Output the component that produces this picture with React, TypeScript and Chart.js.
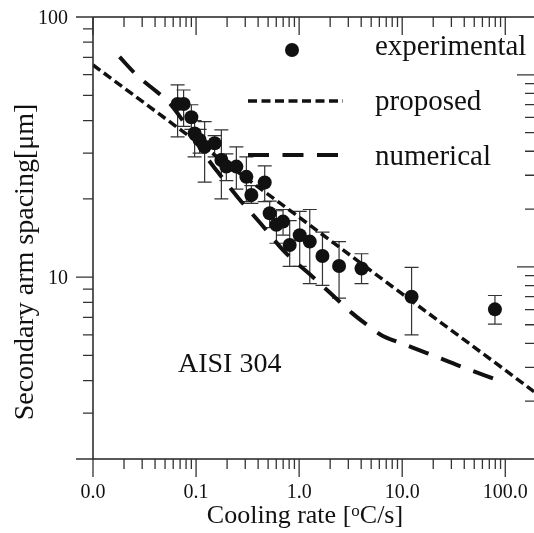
import React, { useEffect, useRef } from "react";
import { Chart, registerables } from "chart.js";

Chart.register(...registerables);

// Experimental data: cooling rate [°C/s] vs secondary arm spacing [µm]
const expRate = [0.0662, 0.0757, 0.09, 0.0968, 0.1083, 0.1211, 0.1514, 0.176, 0.1967, 0.246, 0.3077, 0.344, 0.4634, 0.518, 0.602, 0.698, 0.81, 1.013, 1.268, 1.684, 2.44, 4.03, 12.33, 79.4];
const expSpacing = [46.3, 46.3, 41.2, 35.7, 33.7, 31.7, 32.7, 28.2, 26.6, 26.6, 24.3, 20.7, 23.1, 17.6, 15.9, 16.35, 13.3, 14.5, 13.7, 12.06, 11.04, 10.8, 8.41, 7.52];
const expHigh = [54.8, 52.4, 46.0, 40.0, 37.0, 39.6, 35.0, 36.8, 29.8, 31.7, 29.0, 22.5, 26.8, 19.6, 18.0, 18.2, 16.5, 17.9, 18.2, 14.9, 13.7, 12.3, 10.9, 8.5];
const expLow = [34.6, 38.0, 37.0, 29.0, 30.0, 23.2, 29.0, 20.0, 23.5, 21.8, 19.5, 19.2, 19.5, 15.5, 13.5, 14.5, 11.0, 11.0, 9.45, 9.3, 8.3, 9.45, 6.0, 6.6];

// Proposed model (straight in log-log)
const propRate = [0.01, 0.1, 1, 10, 100, 190];
const propSpacing = [65.4, 33.3, 17.0, 8.62, 4.39, 3.63];

// Numerical model
const numRate = [0.0181, 0.0271, 0.0396, 0.0529, 0.0692, 0.1238, 0.162, 0.2533, 0.4333, 0.7245, 1.356, 2.371, 3.243, 4.436, 6.49, 8.49, 17.35, 37.97, 83.1];
const numSpacing = [70.2, 59.3, 52.4, 47.6, 41.6, 29.2, 25.4, 20.3, 15.9, 12.5, 10.02, 8.17, 7.29, 6.61, 5.94, 5.69, 5.11, 4.52, 4.03];

// Axis ticks and labels
const xMajorTicks = [0.01, 0.1, 1, 10, 100];
const xTickLabels = ["0.0", "0.1", "1.0", "10.0", "100.0"];
const yMajorTicks = [10, 100];
const yTickLabels = ["10", "100"];

const X_MIN = 0.01;
const X_MAX = 190;
const Y_MIN = 2;
const Y_MAX = 100;

const SERIF = '"Liberation Serif", "Times New Roman", serif';

function minorTicks(decades: number[], max: number, min: number) {
  const out: number[] = [];
  decades.forEach((d) => {
    for (let m = 2; m <= 9; m++) {
      const v = d * m;
      if (v <= max && v >= min) out.push(v);
    }
  });
  return out;
}

const customPlugin = {
  id: "customAxes",
  beforeDatasetsDraw(chart: any) {
    const ctx = chart.ctx;
    const xs = chart.scales.x;
    const ys = chart.scales.y;
    ctx.save();
    ctx.strokeStyle = "#333";
    ctx.lineWidth = 1.2;
    expRate.forEach((r, i) => {
      const px = xs.getPixelForValue(r);
      const ph = ys.getPixelForValue(expHigh[i]);
      const pl = ys.getPixelForValue(expLow[i]);
      ctx.beginPath();
      ctx.moveTo(px, ph);
      ctx.lineTo(px, pl);
      ctx.moveTo(px - 7, ph);
      ctx.lineTo(px + 7, ph);
      ctx.moveTo(px - 7, pl);
      ctx.lineTo(px + 7, pl);
      ctx.stroke();
    });
    ctx.restore();
  },
  afterDraw(chart: any) {
    const ctx = chart.ctx;
    const xs = chart.scales.x;
    const ys = chart.scales.y;
    const y2 = chart.scales.y2;
    const { left, right, top, bottom } = chart.chartArea;
    ctx.save();
    // axis lines
    ctx.strokeStyle = "#222";
    ctx.lineWidth = 1.5;
    ctx.beginPath();
    ctx.moveTo(left, top);
    ctx.lineTo(left, bottom);
    ctx.moveTo(left, top);
    ctx.lineTo(right, top);
    ctx.moveTo(left, bottom);
    ctx.lineTo(right, bottom);
    ctx.stroke();

    ctx.strokeStyle = "#333";
    ctx.lineWidth = 1.3;
    ctx.beginPath();
    // x ticks
    const xMinor = minorTicks(xMajorTicks, X_MAX, X_MIN);
    xMajorTicks.forEach((v) => {
      const p = xs.getPixelForValue(v);
      ctx.moveTo(p, bottom);
      ctx.lineTo(p, bottom + 18);
      ctx.moveTo(p, top);
      ctx.lineTo(p, top + 18);
    });
    xMinor.forEach((v) => {
      const p = xs.getPixelForValue(v);
      ctx.moveTo(p, bottom);
      ctx.lineTo(p, bottom + 10);
      ctx.moveTo(p, top);
      ctx.lineTo(p, top + 10);
    });
    // left y ticks
    const yMinor = minorTicks([1, 10], Y_MAX, Y_MIN);
    [2, ...yMajorTicks].forEach((v) => {
      const p = ys.getPixelForValue(v);
      ctx.moveTo(left - 17, p);
      ctx.lineTo(left, p);
    });
    yMinor.forEach((v) => {
      const p = ys.getPixelForValue(v);
      ctx.moveTo(left - 10, p);
      ctx.lineTo(left, p);
    });
    // right (secondary) ticks, inward
    const y2Minor = minorTicks([1, 10], 99, 2);
    [10, 100].forEach((v) => {
      const p = y2.getPixelForValue(v);
      ctx.moveTo(right, p);
      ctx.lineTo(right - 17, p);
    });
    y2Minor.forEach((v) => {
      const p = y2.getPixelForValue(v);
      ctx.moveTo(right, p);
      ctx.lineTo(right - 9, p);
    });
    ctx.stroke();

    // tick labels
    ctx.fillStyle = "#111";
    ctx.font = `20px ${SERIF}`;
    ctx.textAlign = "center";
    ctx.textBaseline = "alphabetic";
    xMajorTicks.forEach((v, i) => {
      ctx.fillText(xTickLabels[i], xs.getPixelForValue(v), bottom + 39);
    });
    ctx.textAlign = "right";
    yMajorTicks.forEach((v, i) => {
      ctx.fillText(yTickLabels[i], left - 25, ys.getPixelForValue(v) + 6.5);
    });

    // x title with superscript o
    const t1 = "Cooling rate [";
    const tSup = "o";
    const t2 = "C/s]";
    ctx.font = `26px ${SERIF}`;
    const w1 = ctx.measureText(t1).width;
    const w2 = ctx.measureText(t2).width;
    ctx.font = `17px ${SERIF}`;
    const ws = ctx.measureText(tSup).width;
    const total = w1 + ws + w2;
    const cx = 305;
    let sx = cx - total / 2;
    const base = bottom + 64;
    ctx.textAlign = "left";
    ctx.font = `26px ${SERIF}`;
    ctx.fillText(t1, sx, base);
    sx += w1;
    ctx.font = `17px ${SERIF}`;
    ctx.fillText(tSup, sx, base - 7);
    sx += ws;
    ctx.font = `26px ${SERIF}`;
    ctx.fillText(t2, sx, base);

    // y title
    ctx.save();
    ctx.translate(33, 262);
    ctx.rotate(-Math.PI / 2);
    ctx.textAlign = "center";
    ctx.font = `28px ${SERIF}`;
    ctx.fillText("Secondary arm spacing[\u03bcm]", 0, 0);
    ctx.restore();

    // annotation
    ctx.font = `28px ${SERIF}`;
    ctx.textAlign = "left";
    ctx.fillText("AISI 304", 178, 372);

    // legend
    ctx.fillStyle = "#111";
    ctx.beginPath();
    ctx.arc(292, 50, 7, 0, Math.PI * 2);
    ctx.fill();
    ctx.font = `29px ${SERIF}`;
    ctx.fillText("experimental", 375, 55);
    ctx.fillText("proposed", 375, 110);
    ctx.fillText("numerical", 375, 165);

    ctx.strokeStyle = "#111";
    ctx.lineCap = "butt";
    ctx.lineWidth = 3.5;
    ctx.setLineDash([9, 4.5]);
    ctx.beginPath();
    ctx.moveTo(248, 101);
    ctx.lineTo(343, 101);
    ctx.stroke();
    ctx.lineWidth = 4;
    ctx.setLineDash([21, 13.5]);
    ctx.beginPath();
    ctx.moveTo(248, 155);
    ctx.lineTo(340, 155);
    ctx.stroke();
    ctx.setLineDash([]);
    ctx.restore();
  },
};

export default function App() {
  const ref = useRef<HTMLCanvasElement | null>(null);
  useEffect(() => {
    if (!ref.current) return;
    const chart = new Chart(ref.current, {
      type: "scatter",
      data: {
        datasets: [
          {
            label: "experimental",
            data: expRate.map((x, i) => ({ x, y: expSpacing[i] })),
            showLine: false,
            pointRadius: 7,
            pointBackgroundColor: "#111",
            pointBorderColor: "#111",
            pointBorderWidth: 0,
            order: 2,
          },
          {
            label: "proposed",
            type: "line",
            data: propRate.map((x, i) => ({ x, y: propSpacing[i] })),
            borderColor: "#111",
            borderWidth: 3.5,
            borderDash: [9, 4.5],
            borderCapStyle: "butt",
            pointRadius: 0,
            fill: false,
            order: 1,
          },
          {
            label: "numerical",
            type: "line",
            data: numRate.map((x, i) => ({ x, y: numSpacing[i] })),
            borderColor: "#111",
            borderWidth: 4,
            borderDash: [21, 13.5],
            borderCapStyle: "butt",
            cubicInterpolationMode: "monotone",
            pointRadius: 0,
            fill: false,
            order: 1,
          },
        ],
      } as any,
      options: {
        animation: false,
        responsive: false,
        devicePixelRatio: 1,
        events: [],
        layout: { autoPadding: false, padding: { left: 93, right: 0, top: 17, bottom: 74 } },
        plugins: { legend: { display: false }, tooltip: { enabled: false } },
        scales: {
          x: { type: "logarithmic", min: X_MIN, max: X_MAX, display: false },
          y: { type: "logarithmic", min: Y_MIN, max: Y_MAX, display: false },
          y2: { type: "logarithmic", min: 1, max: 200, display: false, position: "right" },
        },
      } as any,
      plugins: [customPlugin],
    });
    return () => chart.destroy();
  }, []);
  return (
    <div style={{ position: "absolute", left: 0, top: 0, width: 534, height: 533, background: "#fff" }}>
      <canvas ref={ref} width={534} height={533} style={{ width: 534, height: 533, display: "block" }} />
    </div>
  );
}
